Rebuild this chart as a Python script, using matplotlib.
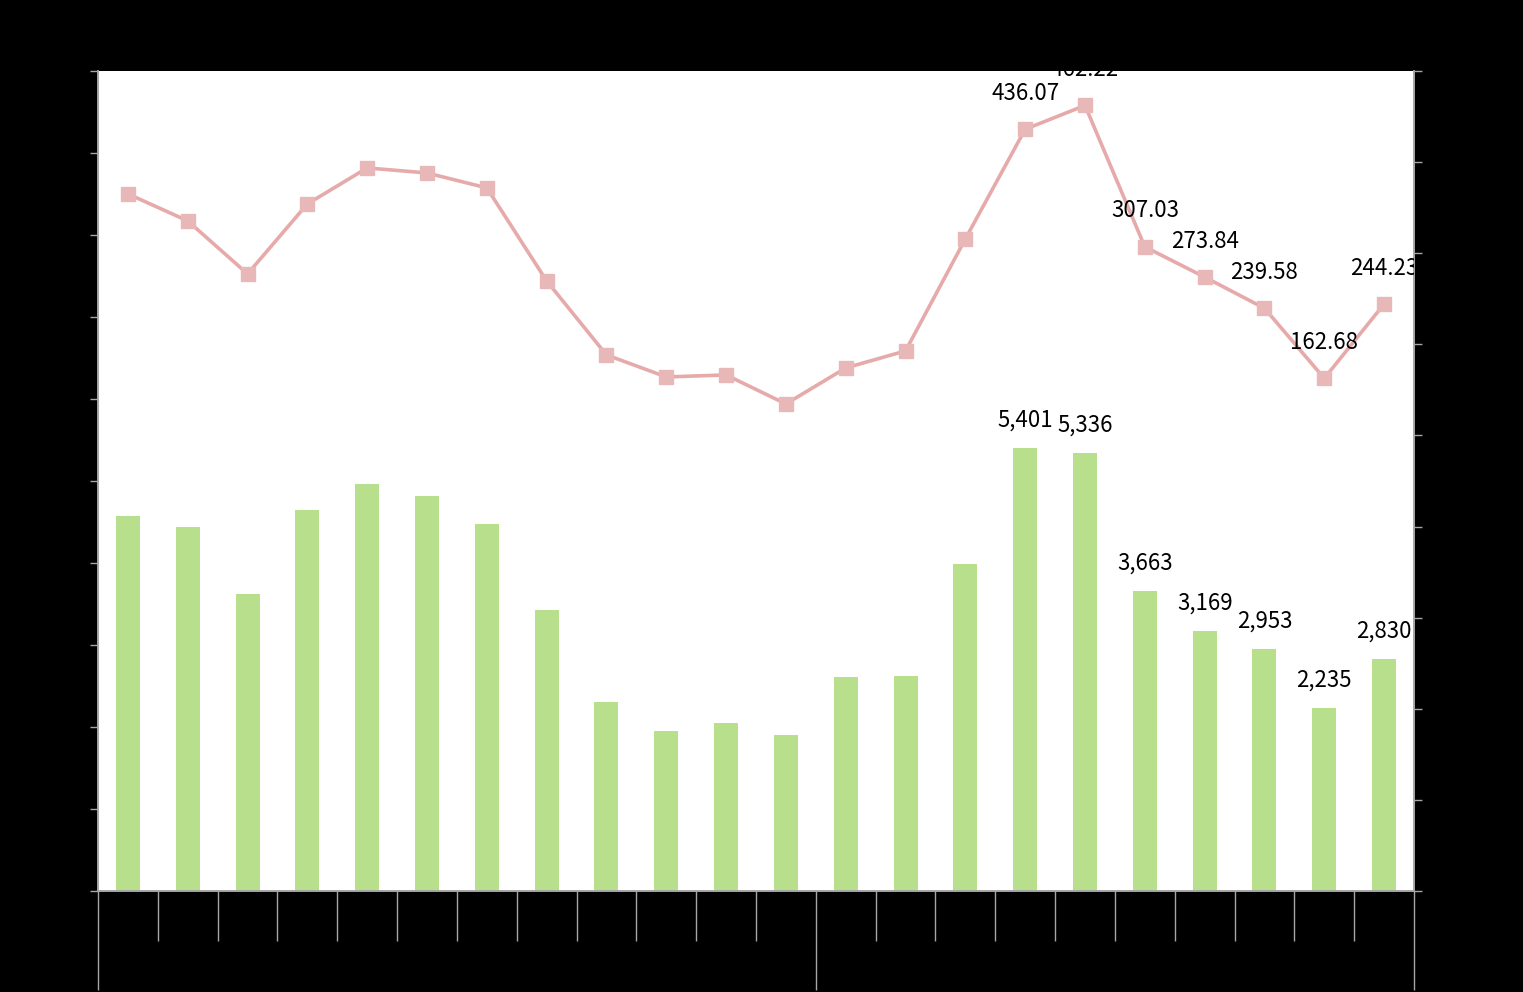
import matplotlib
matplotlib.use("Agg")
import matplotlib.pyplot as plt

plt.rcParams['font.family'] = ['Noto Sans CJK KR', 'DejaVu Sans']

categories = list(range(1, 23))
bar_values = [4573, 4439, 3622, 4646, 4963, 4817, 4476, 3427, 2305, 1951, 2049,
              1902, 2610, 2622, 3988, 5401, 5336, 3663, 3169, 2953, 2235, 2830]
line_values = [365.1, 335.5, 277.3, 354.1, 393.6, 388.1, 371.7, 269.6, 188.4, 164.2,
               166.4, 134.6, 174.1, 192.8, 315.7, 436.07, 462.22, 307.03, 273.84,
               239.58, 162.68, 244.23]
labeled_from = 15  # labels shown for the last points
group_bounds = [-0.5, 11.5, 21.5]

W, H = 1523, 992
PX = 72 / 100  # points per pixel at dpi 100
fig = plt.figure(figsize=(W / 100, H / 100), dpi=100, facecolor='black')
ax = fig.add_axes([98 / W, (H - 891) / H, 1316 / W, 820 / H])
ax.set_facecolor('white')
x = list(range(len(categories)))

bar_color = '#B8E08C'
line_color = '#E6AAAA'
marker_color = '#E8B8B8'
axis_gray = '#A6A6A6'

ax.bar(x, bar_values, width=0.4, color=bar_color, zorder=2)
ax.set_ylim(0, 10000)
ax.set_yticks(range(0, 10001, 1000))
ax.set_yticklabels([f"{v:,}" for v in range(0, 10001, 1000)], color='black')
ax.set_xlim(-0.5, len(categories) - 0.5)

ax2 = ax.twinx()
ax2.plot(x, line_values, color=line_color, lw=2.6, marker='s', markersize=10,
         markerfacecolor=marker_color, markeredgecolor=marker_color, zorder=3)
ax2.set_ylim(-400, 500)
ax2.set_yticks(range(-400, 501, 100))
ax2.set_yticklabels([str(v) for v in range(-400, 501, 100)], color='black')

for i in range(labeled_from, len(categories)):
    ax.annotate(f"{bar_values[i]:,}", (x[i], bar_values[i]), xytext=(0, 28),
                textcoords='offset pixels', ha='center', va='center',
                fontsize=16, color='black', annotation_clip=False, clip_on=True)
    ax2.annotate(f"{line_values[i]:.2f}", (x[i], line_values[i]), xytext=(0, 36),
                 textcoords='offset pixels', ha='center', va='center',
                 fontsize=16, color='black', clip_on=True)

for a in (ax, ax2):
    a.spines['top'].set_visible(False)
    for s in ('left', 'right', 'bottom'):
        a.spines[s].set_color(axis_gray)
        a.spines[s].set_linewidth(1.2)
    a.tick_params(axis='y', direction='out', length=8 * PX, color=axis_gray, width=1)

# multi-level category axis: inner boundaries short, group boundaries long
inner = [i + 0.5 for i in range(len(categories) - 1) if (i + 0.5) not in group_bounds]
ax.set_xticks(group_bounds)
ax.set_xticklabels(['' for _ in group_bounds])
ax.set_xticks(inner, minor=True)
ax.tick_params(axis='x', which='major', direction='out', length=99 * PX, color=axis_gray, width=1)
ax.tick_params(axis='x', which='minor', direction='out', length=50 * PX, color=axis_gray, width=1)
ax2.tick_params(axis='x', which='both', length=0)

fig.savefig('out.png', dpi=100, facecolor='black')
